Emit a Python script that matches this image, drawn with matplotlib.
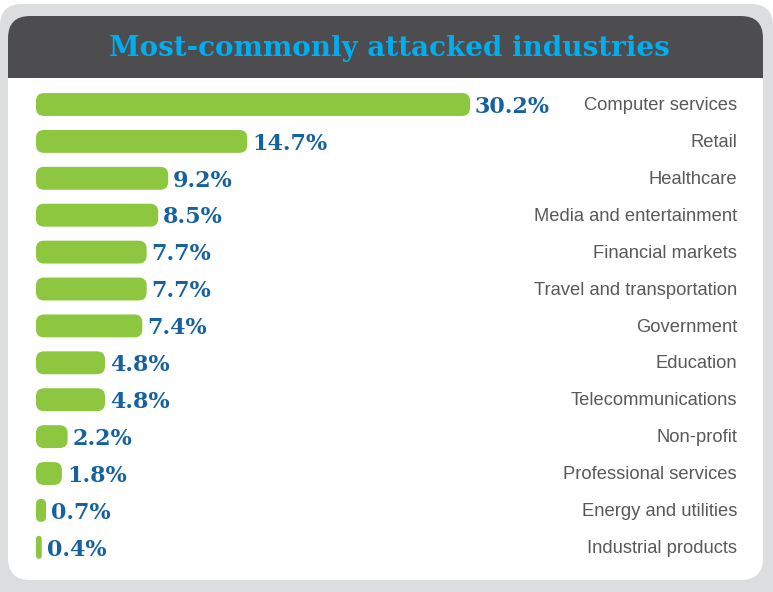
#!/usr/bin/env python3
import matplotlib
matplotlib.use("Agg")
import matplotlib.pyplot as plt
from matplotlib.patches import FancyBboxPatch, Rectangle
from matplotlib.transforms import blended_transform_factory

# Données
industries = ["Computer services", "Retail", "Healthcare", "Media and entertainment",
              "Financial markets", "Travel and transportation", "Government",
              "Education", "Telecommunications", "Non-profit",
              "Professional services", "Energy and utilities", "Industrial products"]
shares = [30.2, 14.7, 9.2, 8.5, 7.7, 7.7, 7.4, 4.8, 4.8, 2.2, 1.8, 0.7, 0.4]
title = "Most-commonly attacked industries"

W, H = 773, 592
green = "#8dc63f"
blue = "#17629e"
cyan = "#00aeef"
dark = "#4d4d4f"
frame = "#dcdddf"
textgray = "#58595b"

fig = plt.figure(figsize=(W / 100, H / 100), dpi=100)
fig.patch.set_facecolor("white")

# Fond : cadre gris, panneau blanc, bandeau sombre (en pixels)
bg = fig.add_axes([0, 0, 1, 1])
bg.set_xlim(0, W)
bg.set_ylim(H, 0)
bg.axis("off")
bg.add_patch(FancyBboxPatch((0, 4), W, H + 30, boxstyle="round,pad=0,rounding_size=22",
                            fc=frame, ec="none"))
bg.add_patch(FancyBboxPatch((8, 16), 755, 564, boxstyle="round,pad=0,rounding_size=22",
                            fc="white", ec="none"))
bg.add_patch(FancyBboxPatch((8, 16), 755, 100, boxstyle="round,pad=0,rounding_size=22",
                            fc=dark, ec="none"))
bg.add_patch(Rectangle((8, 78), 755, 60, fc="white", ec="none"))
bg.text(389, 48, title, ha="center", va="center", color=cyan, fontsize=20,
        fontweight="bold", family="DejaVu Serif")

# Axe des barres
ax_left, ax_w = 36, 700
row_h = 36.9
n = len(shares)
ax_top = 104.5 - row_h / 2
ax = fig.add_axes([ax_left / W, 1 - (ax_top + n * row_h) / H, ax_w / W, n * row_h / H])
ax.set_facecolor("none")
ax.axis("off")
px_per_unit = (470 - 36) / 30.2
xmax = ax_w / px_per_unit
ax.set_xlim(0, xmax)
ax.set_ylim(n - 0.5, -0.5)

bars = ax.barh(range(n), shares, height=0.62, color=green)

# Remplace chaque barre par une version arrondie
xu = xmax / ax_w          # unités x par pixel
yu = n / (n * row_h)      # unités y par pixel
for b in bars:
    b.set_visible(False)
    x0, y0 = b.get_x(), b.get_y()
    w, h = b.get_width(), b.get_height()
    r_px = min(8, w / xu / 2, h / yu / 2)
    ax.add_patch(FancyBboxPatch((x0, y0), w, h,
                                boxstyle=f"round,pad=0,rounding_size={r_px * xu}",
                                mutation_aspect=yu / xu, fc=green, ec="none"))

for i, v in enumerate(shares):
    ax.text(v + 5 * xu, i + 0.06, f"{v}%", ha="left", va="center", color=blue,
            fontsize=16, fontweight="bold", family="DejaVu Serif")

trans = blended_transform_factory(fig.transFigure, ax.transData)
for i, name in enumerate(industries):
    ax.text(737 / W, i + 0.03, name, transform=trans, ha="right", va="center",
            color=textgray, fontsize=13.2, family="Liberation Sans")

plt.savefig("out.png", dpi=100)
